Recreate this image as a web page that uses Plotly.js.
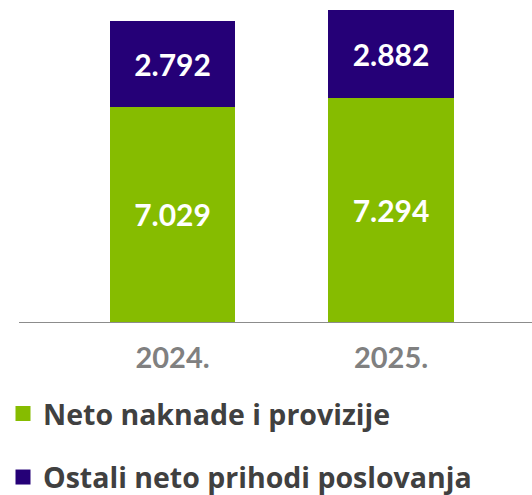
<!DOCTYPE html>
<html>
<head>
<meta charset="utf-8">
<script src="https://cdn.plot.ly/plotly-3.0.1.min.js"></script>
<style>html,body{margin:0;padding:0;background:#fff;}#chart{width:532px;height:495px;}</style>
</head>
<body>
<div id="chart"></div>
<script>
const categories = ['2024.', '2025.'];
const netoNaknade = [7.029, 7.294];
const ostaliPrihodi = [2.792, 2.882];
const seriesNames = ['Neto naknade i provizije', 'Ostali neto prihodi poslovanja'];

const GREEN = '#86bc00';
const PURPLE = '#250077';
const FONT = 'Lato, "Open Sans", sans-serif';
const LEGEND_FONT = '"Open Sans", Lato, sans-serif';

function fmt(v) { return v.toFixed(3); }

const barCommon = {
  type: 'bar',
  x: categories,
  width: 0.574,
  textposition: 'inside',
  insidetextanchor: 'middle',
  constraintext: 'none',
  textfont: {family: FONT, size: 30, color: '#ffffff', weight: 700},
  hoverinfo: 'skip',
  showlegend: false
};

const traces = [
  Object.assign({}, barCommon, {
    y: netoNaknade, name: seriesNames[0],
    text: netoNaknade.map(fmt), marker: {color: GREEN}
  }),
  Object.assign({}, barCommon, {
    y: ostaliPrihodi, name: seriesNames[1],
    text: ostaliPrihodi.map(fmt), marker: {color: PURPLE}
  }),
  {type: 'scatter', mode: 'markers', x: [null], y: [null], name: seriesNames[0],
   marker: {symbol: 'square', size: 15, color: GREEN}, legend: 'legend', showlegend: true},
  {type: 'scatter', mode: 'markers', x: [null], y: [null], name: seriesNames[1],
   marker: {symbol: 'square', size: 15, color: PURPLE}, legend: 'legend2', showlegend: true}
];

const legendFont = {family: LEGEND_FONT, size: 28.5, color: '#404040', weight: 700};

const plotW = 532 - 19;
const plotH = 495 - 173;

const layout = {
  width: 532, height: 495,
  margin: {l: 19, r: 0, t: 0, b: 173, pad: 0, autoexpand: false},
  barmode: 'stack',
  paper_bgcolor: '#ffffff', plot_bgcolor: '#ffffff',
  font: {family: FONT},
  xaxis: {
    type: 'category', range: [-0.7025, 1.645], fixedrange: true,
    showline: true, linecolor: '#8c8c8c', linewidth: 1.3,
    ticks: '', showgrid: false, zeroline: false,
    tickfont: {family: FONT, size: 29, color: '#808080', weight: 700},
    ticklabelstandoff: 10
  },
  yaxis: {
    range: [0, 10.506], visible: false, showgrid: false, zeroline: false, fixedrange: true
  },
  legend: {
    x: -16 / plotW, xanchor: 'left', y: (322 - 414) / plotH, yanchor: 'middle',
    font: legendFont, bgcolor: 'rgba(0,0,0,0)', borderwidth: 0, itemsizing: 'trace'
  },
  legend2: {
    x: -16 / plotW, xanchor: 'left', y: (322 - 503) / plotH, yanchor: 'bottom',
    font: legendFont, bgcolor: 'rgba(0,0,0,0)', borderwidth: 0, itemsizing: 'trace'
  }
};

Plotly.newPlot('chart', traces, layout, {displayModeBar: false, staticPlot: true});
</script>
</body>
</html>
